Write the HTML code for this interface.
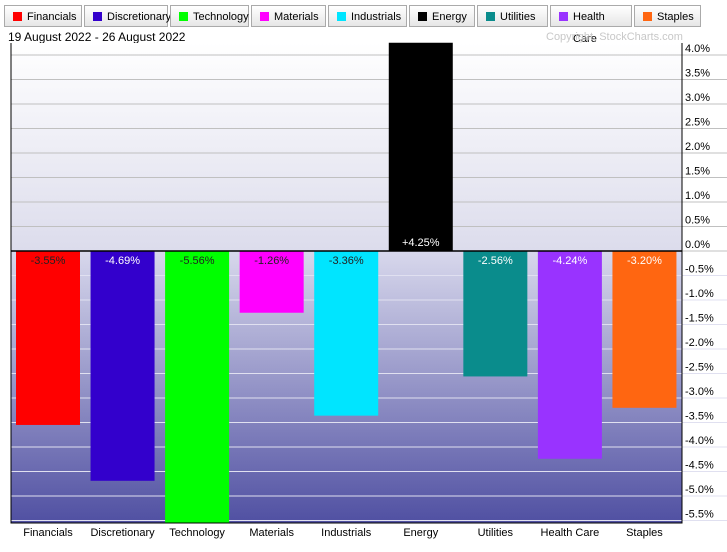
<!DOCTYPE html>
<html><head><meta charset="utf-8"><style>
body{margin:0;width:727px;height:552px;overflow:hidden;background:#fff;font-family:"Liberation Sans",sans-serif}
.leg{position:absolute;top:5px;height:22px;border:1px solid #aaa;background:linear-gradient(#fff,#e6e6e6);font-size:11px;line-height:22px;box-sizing:border-box;padding-left:22px;padding-right:6px}
.leg i{position:absolute;left:8px;top:6px;width:9px;height:9px}
</style></head><body>
<div id="legend"></div>
<svg id="c" width="727" height="552" style="position:absolute;left:0;top:0">
<defs>
<linearGradient id="gu" x1="0" y1="0" x2="0" y2="1"><stop offset="0" stop-color="#ffffff"/><stop offset="1" stop-color="#dcdcec"/></linearGradient>
<linearGradient id="gd" x1="0" y1="0" x2="0" y2="1"><stop offset="0" stop-color="#d8d8ec"/><stop offset="1" stop-color="#5050a2"/></linearGradient>
</defs>
<text x="8" y="41" font-size="12" fill="#000">19 August 2022 - 26 August 2022</text>
<text x="546" y="40" font-size="11" fill="#c8c8c8">Copyright, StockCharts.com</text>
<g id="plot"></g>
</svg>
<script>
const categories=["Financials","Discretionary","Technology","Materials","Industrials","Energy","Utilities","Health Care","Staples"];
const values=[-3.55,-4.69,-5.56,-1.26,-3.36,4.25,-2.56,-4.24,-3.20];
const colors=["#ff0000","#3300cc","#00ff00","#ff00ff","#00e5ff","#000000","#0a8c8c","#9933ff","#ff6611"];
const ticks=[4,3.5,3,2.5,2,1.5,1,0.5,0,-0.5,-1,-1.5,-2,-2.5,-3,-3.5,-4,-4.5,-5,-5.5];
const legW=[78,84,79,75,79,66,71,82,67];
const NS="http://www.w3.org/2000/svg";
const L=11,R=682,T=43,B=523;
const y=v=>251-v*49;
const step=(R-L)/categories.length;
const x=i=>L+i*step;
const g=document.getElementById('plot');
function mk(t,a,p){const e=document.createElementNS(NS,t);for(const k in a)e.setAttribute(k,a[k]);(p||g).appendChild(e);return e;}
let e=mk('rect',{x:L,y:T,width:R-L,height:y(0)-T,fill:'url(#gu)'});


e=mk('rect',{x:L,y:y(0),width:R-L,height:B-y(0),fill:'url(#gd)'});


ticks.forEach(t=>{
  const l=mk('line',{x1:L,x2:727,y1:y(t),y2:y(t),stroke:t<0?'#e0e0f0':'#c0c0c0','stroke-width':1});
  
  
  const tx=mk('text',{x:R+3,y:y(t)-3,'font-size':11,fill:'#000'});
  tx.textContent=(t<0?'-':'')+Math.abs(t).toFixed(1)+'%';
  
  
});
const darkText=[false,true,false,false,false,true,true,true,true];
values.forEach((v,i)=>{
  const bx=x(i)+5,w=64;
  const r=mk('rect',{x:bx,y:Math.min(y(v),y(0)),width:w,height:Math.abs(y(v)-y(0)),fill:colors[i]});
  
  
  const lbl=mk('text',{x:bx+w/2,y:v<0?y(0)+13:y(0)-5,'font-size':11,'text-anchor':'middle',fill:darkText[i]?'#fff':'#222'});
  lbl.textContent=(v>0?'+':'-')+Math.abs(v).toFixed(2)+'%';
  
  
  const c=mk('text',{x:bx+w/2,y:536,'font-size':11,'text-anchor':'middle',fill:'#000'});
  c.textContent=categories[i];
  
  
});
e=mk('line',{x1:L,x2:R,y1:y(0),y2:y(0),stroke:'#000','stroke-width':1.5});


e=mk('polyline',{points:`${L},${T} ${L},${B} ${R},${B} ${R},${T}`,fill:'none',stroke:'#000','stroke-width':1});


const leg=document.getElementById('legend');
let lx=4;
categories.forEach((c,i)=>{
  const d=document.createElement('div');
  d.className='leg';
  
  
  d.style.left=lx+'px';d.style.width=legW[i]+'px';
  d.innerHTML='<i style="background:'+colors[i]+'"></i>'+c;
  leg.appendChild(d);
  lx+=legW[i]+2;
});
</script>
</body></html>
